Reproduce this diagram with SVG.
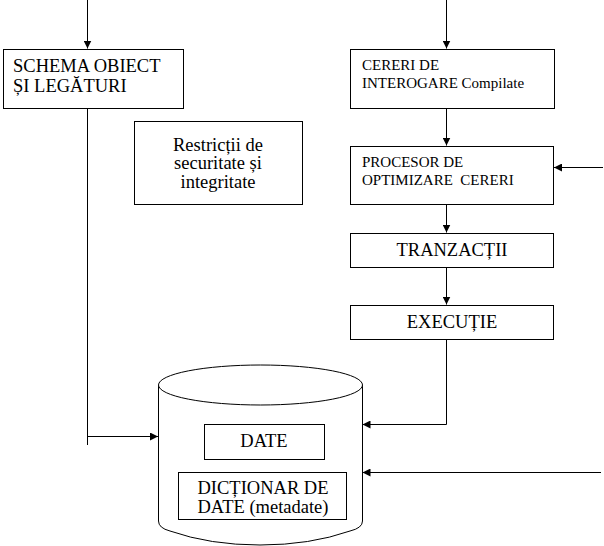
<svg xmlns="http://www.w3.org/2000/svg" width="604" height="546" viewBox="0 0 604 546">
<style>
.box{fill:#fff;stroke:#000;stroke-width:1}
.ln{fill:none;stroke:#000;stroke-width:1}
.t{font-family:"Liberation Serif","Times New Roman",serif;fill:#000}
.big{font-size:18.5px}
.sm{font-size:15px}
.c{text-anchor:middle}
</style>
<defs>
<marker id="ah" markerUnits="userSpaceOnUse" markerWidth="9" markerHeight="8" refX="8" refY="4" orient="auto">
<path d="M0,0 L8,4 L0,8 z" fill="#000"/>
</marker>
</defs>
<rect width="604" height="546" fill="#fff"/>
<g id="connectors">
<path class="ln" d="M87.5,0 V48.5" marker-end="url(#ah)"/>
<path class="ln" d="M87.5,109 V445"/>
<path class="ln" d="M87.5,436.5 H158" marker-end="url(#ah)"/>
<path class="ln" d="M446.5,0 V48.5" marker-end="url(#ah)"/>
<path class="ln" d="M446.5,109 V145.5" marker-end="url(#ah)"/>
<path class="ln" d="M603,167.5 H554" marker-end="url(#ah)"/>
<path class="ln" d="M446.5,205 V232.5" marker-end="url(#ah)"/>
<path class="ln" d="M446.5,268 V304.5" marker-end="url(#ah)"/>
<path class="ln" d="M446.5,340 V424.5 H362.5" marker-end="url(#ah)"/>
<path class="ln" d="M601,472.5 H362.5" marker-end="url(#ah)"/>
</g>
<g id="schema">
<rect class="box" x="3.5" y="49.5" width="180" height="59"/>
<text class="t big" x="13" y="72">SCHEMA OBIECT</text>
<text class="t big" x="13" y="92">ȘI LEGĂTURI</text>
</g>
<g id="restrictii">
<rect class="box" x="134.5" y="121.5" width="168" height="83"/>
<text class="t big c" x="218" y="151">Restricții de</text>
<text class="t big c" x="218" y="169">securitate și</text>
<text class="t big c" x="218" y="188">integritate</text>
</g>
<g id="cereri">
<rect class="box" x="350.5" y="49.5" width="204" height="59"/>
<text class="t sm" x="362" y="70">CERERI DE</text>
<text class="t sm" x="362" y="88">INTEROGARE Compilate</text>
</g>
<g id="procesor">
<rect class="box" x="350.5" y="146.5" width="203" height="58"/>
<text class="t sm" x="362" y="167">PROCESOR DE</text>
<text class="t sm" x="362" y="185" xml:space="preserve">OPTIMIZARE  CERERI</text>
</g>
<g id="tranzactii">
<rect class="box" x="350.5" y="233.5" width="203" height="34"/>
<text class="t big c" x="452" y="256">TRANZACȚII</text>
</g>
<g id="executie">
<rect class="box" x="350.5" y="305.5" width="203" height="34"/>
<text class="t big c" x="452" y="328">EXECUȚIE</text>
</g>
<g id="baza-date">
<path class="box" d="M158.5,385 V521 Q158.5,528 170,531 Q210,545 260,545 Q310,545 350,531 Q362.5,528 362.5,521 V385"/>
<ellipse class="box" cx="260.5" cy="385" rx="102" ry="20"/>
<g id="date">
<rect class="box" x="204.5" y="424.5" width="120" height="35"/>
<text class="t big c" x="264" y="447">DATE</text>
</g>
<g id="dictionar">
<rect class="box" x="178.5" y="472.5" width="168" height="47"/>
<text class="t big c" x="263" y="494">DICȚIONAR DE</text>
<text class="t big c" x="263" y="513">DATE (metadate)</text>
</g>
</g>
</svg>
